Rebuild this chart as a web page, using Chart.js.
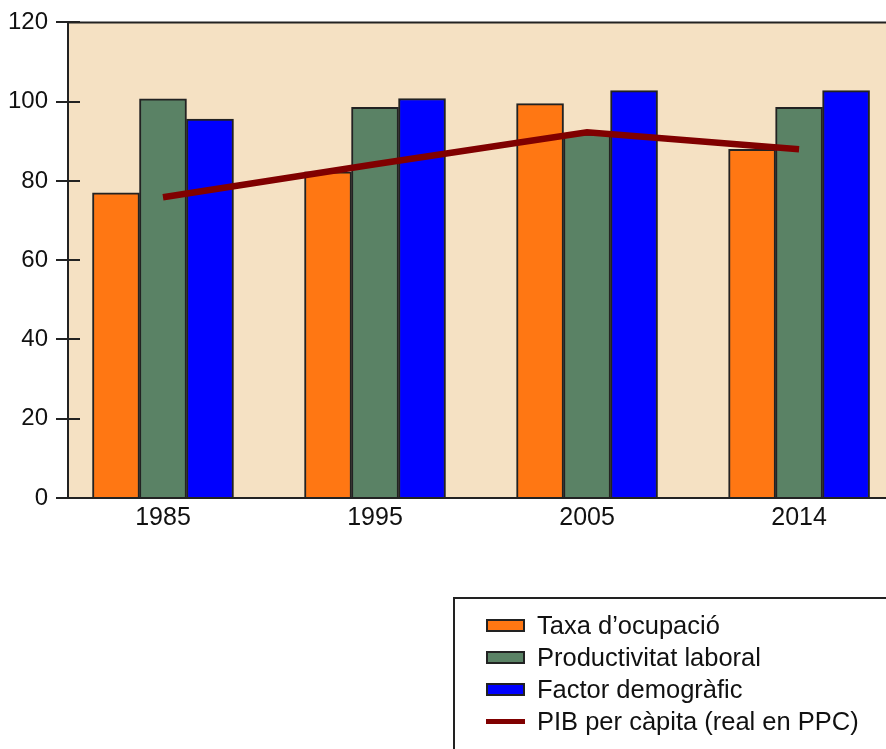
<!DOCTYPE html>
<html><head><meta charset="utf-8">
<script src="https://cdn.jsdelivr.net/npm/chart.js@4/dist/chart.umd.min.js"></script>
<style>
html,body{margin:0;padding:0;background:#fff;overflow:hidden;width:886px;height:749px;}
#wrap{position:relative;width:886px;height:749px;overflow:hidden;}
canvas{position:absolute;left:0;top:0;}
#legendBox{position:absolute;left:453px;top:597px;width:500px;height:200px;border:2px solid #222;box-sizing:border-box;}
.row{position:absolute;left:486px;height:32px;display:flex;align-items:center;font:25.5px "Liberation Sans",Arial,sans-serif;color:#111;white-space:nowrap;}
.sw{width:39px;height:13px;box-sizing:border-box;border:2px solid #222;margin-right:12px;}
.ln{width:39px;height:5px;margin-right:12px;}
</style></head>
<body><div id="wrap"><canvas id="c" width="886" height="749"></canvas><div id="legendBox"></div></div>
<script>
const categories = ['1985', '1995', '2005', '2014'];
const taxaOcupacio = [77, 82.3, 99.5, 88];
const productivitatLaboral = [100.7, 98.6, 91.8, 98.6];
const factorDemografic = [95.6, 100.8, 102.8, 102.8];
const pibPerCapita = [75.9, 84.2, 92.3, 88.0];
const yTicks = [0, 20, 40, 60, 80, 100, 120];
const seriesNames = ['Taxa d\u2019ocupació', 'Productivitat laboral', 'Factor demogràfic', 'PIB per càpita (real en PPC)'];

const toXY = arr => arr.map((v, i) => ({x: i, y: v}));
const FONT = '"Liberation Sans", Arial, sans-serif';
Chart.defaults.font.family = FONT;
Chart.defaults.color = '#111';

const framePlugin = {
  id: 'frame',
  beforeDraw(chart) {
    const {ctx, chartArea: a} = chart;
    ctx.save();
    ctx.fillStyle = '#f5e1c3';
    ctx.fillRect(a.left, a.top, a.right - a.left, a.bottom - a.top);
    ctx.restore();
  },
  beforeDatasetsDraw(chart) {
    const {ctx, chartArea: a, scales} = chart;
    ctx.save();
    ctx.strokeStyle = '#222';
    ctx.lineWidth = 2;
    ctx.beginPath();
    ctx.moveTo(a.left - 1, a.top);
    ctx.lineTo(a.right + 2, a.top);
    scales.y.ticks.forEach(t => {
      const y = Math.round(scales.y.getPixelForValue(t.value));
      ctx.moveTo(a.left, y);
      ctx.lineTo(a.left + 12, y);
    });
    ctx.stroke();
    ctx.restore();
  }
};

const barBase = {borderColor: '#222', borderWidth: 2, barThickness: 47, order: 1};
const chart = new Chart(document.getElementById('c'), {
  type: 'bar',
  data: {
    datasets: [
      Object.assign({label: seriesNames[0], data: toXY(taxaOcupacio), backgroundColor: '#ff7713'}, barBase),
      Object.assign({label: seriesNames[1], data: toXY(productivitatLaboral), backgroundColor: '#5a8265'}, barBase),
      Object.assign({label: seriesNames[2], data: toXY(factorDemografic), backgroundColor: '#0000ff'}, barBase),
      {type: 'line', label: seriesNames[3], data: toXY(pibPerCapita), borderColor: '#800000', backgroundColor: '#800000',
       borderWidth: 6.5, pointRadius: 0, tension: 0, borderCapStyle: 'butt', order: 0}
    ]
  },
  options: {
    responsive: false,
    animation: false,
    devicePixelRatio: 1,
    layout: {padding: {top: 22, left: 0, right: 0, bottom: 0}},
    plugins: {legend: {display: false}, tooltip: {enabled: false}},
    scales: {
      x: {
        type: 'linear', min: -0.448, max: 3.41, offset: false, bounds: 'data',
        afterBuildTicks: s => { s.ticks = categories.map((_, i) => ({value: i})); },
        ticks: {callback: v => categories[v] ?? '', font: {size: 25}, color: '#111', padding: 5, maxRotation: 0, autoSkip: false},
        grid: {display: false, drawTicks: false, offset: false},
        border: {display: true, color: '#222', width: 2},
        afterFit: s => { s.height = 251; }
      },
      y: {
        min: 0, max: 120,
        afterBuildTicks: s => { s.ticks = yTicks.map(v => ({value: v})); },
        ticks: {font: {size: 24}, color: '#111', padding: 8},
        grid: {drawOnChartArea: false, drawTicks: true, tickLength: 12, color: '#222', lineWidth: 2},
        border: {display: true, color: '#222', width: 2},
        afterFit: s => { s.width = 68; }
      }
    }
  },
  plugins: [framePlugin]
});

// legend built from the chart's datasets
const rowTops = [609.6, 641.6, 673.6, 705.6];
chart.data.datasets.forEach((ds, i) => {
  const row = document.createElement('div');
  row.className = 'row';
  row.style.top = rowTops[i] + 'px';
  const sw = document.createElement('div');
  if (ds.type === 'line') { sw.className = 'ln'; sw.style.background = ds.borderColor; }
  else { sw.className = 'sw'; sw.style.background = ds.backgroundColor; }
  const tx = document.createElement('span');
  tx.textContent = ds.label;
  row.appendChild(sw); row.appendChild(tx);
  document.getElementById('wrap').appendChild(row);
});
</script>
</body></html>
